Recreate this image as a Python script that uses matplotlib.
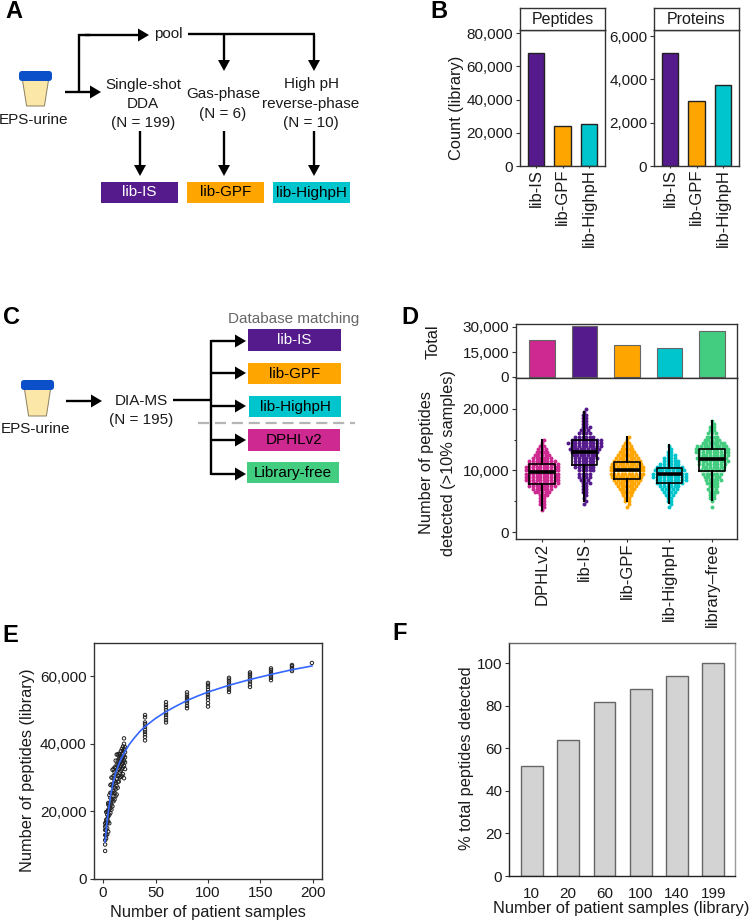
import numpy as np
import matplotlib
matplotlib.use('Agg')
import matplotlib.pyplot as plt
from matplotlib.patches import Polygon, Rectangle, FancyBboxPatch

plt.rcParams['font.family'] = ['Liberation Sans', 'DejaVu Sans']
plt.rcParams['font.size'] = 11

W, H = 750, 923

PURPLE = '#551A8B'
ORANGE = '#FFA500'
CYAN = '#00C5CD'
MAGENTA = '#CD2990'
GREEN = '#43CD80'
TXT = '#1a1a1a'
TITLE_SIZE = 11.8

# panel B
lib_names = ['lib-IS', 'lib-GPF', 'lib-HighpH']
lib_colors = [PURPLE, ORANGE, CYAN]
peptide_counts = [68000, 24000, 25500]
protein_counts = [5230, 3000, 3760]

# panel D
d_names = ['DPHLv2', 'lib-IS', 'lib-GPF', 'lib-HighpH', 'library\u2013free']
d_colors = [MAGENTA, PURPLE, ORANGE, CYAN, GREEN]
d_totals = [22300, 30500, 19200, 17300, 27600]
d_med = [9680, 13030, 10050, 9350, 11840]
d_q1 = [7840, 10810, 8650, 8000, 9890]
d_q3 = [11080, 14970, 11350, 10320, 13400]
d_whislo = [3500, 5000, 5100, 4700, 5130]
d_whishi = [14860, 19460, 15400, 14050, 18100]

# swarm: counts of samples per 500-peptide level, first level in d_first
d_first = [3500, 4500, 4000, 4000, 4000]
d_counts = [
    [1, 1, 2, 2, 2, 3, 5, 6, 8, 9, 10, 10, 10, 10, 10, 9, 8, 6, 5, 4, 3, 2, 1, 1],
    [1, 1, 1, 1, 2, 2, 2, 3, 3, 4, 4, 5, 6, 6, 6, 7, 7, 8, 9, 9, 10, 9, 6, 4, 3, 3, 2, 2, 2, 2, 1, 1],
    [1, 1, 2, 2, 3, 4, 5, 6, 7, 8, 9, 10, 10, 10, 9, 8, 7, 6, 5, 4, 3, 2, 1, 1],
    [1, 1, 2, 2, 3, 4, 5, 6, 8, 9, 10, 10, 9, 8, 6, 5, 4, 3, 2, 1, 1],
    [1, 0, 1, 2, 2, 3, 3, 3, 4, 5, 5, 6, 7, 7, 8, 9, 9, 9, 10, 10, 9, 7, 5, 4, 3, 2, 2, 1, 1],
]

# panel E
e_x_small = list(range(2, 22))
e_y_small = [
    [8300, 10200, 11500, 13000, 14500, 15500, 16500],
    [12000, 13000, 14500, 15800, 16800, 17500, 19800],
    [13200, 15000, 16500, 17800, 19000, 20000],
    [14000, 17000, 18500, 20000, 20500, 22000, 22500],
    [16500, 19000, 20500, 21500, 22300, 24800],
    [19500, 21000, 22500, 24000, 25500, 27800],
    [20500, 22000, 23500, 25500, 28000, 30000],
    [21500, 23500, 25500, 27500, 30000, 32300],
    [23000, 24500, 26000, 28000, 30500, 32500],
    [23500, 25500, 27000, 29000, 31500, 33000],
    [24500, 26500, 28500, 31000, 33000, 35000],
    [25000, 27500, 29500, 32000, 33800, 36800],
    [27000, 28800, 30500, 33500, 35000, 36800],
    [28800, 30500, 32500, 34000, 35500, 37000],
    [30000, 31500, 33000, 34500, 35800, 37000],
    [30200, 32000, 33500, 35000, 36000, 37800],
    [30500, 32500, 34000, 35500, 37000, 38500],
    [31000, 33000, 34500, 36000, 37800, 39200],
    [29800, 33500, 35000, 36500, 38500, 40000, 41600],
    [32500, 34500, 36000, 37500, 39000],
]
e_x_large = [40, 60, 80, 100, 120, 140, 160, 180, 199]
e_y_large = [
    [41000, 42000, 42800, 43500, 44200, 45000, 45800, 46300, 47800, 48500],
    [46300, 47000, 47800, 48500, 49200, 50000, 50800, 51500, 52300],
    [50500, 51200, 52000, 52600, 53200, 53800, 54500, 55200],
    [51000, 52000, 53000, 53800, 54500, 55200, 56000, 56800, 57500, 58000],
    [55300, 56000, 56600, 57200, 57800, 58400, 59000, 59500],
    [56800, 57600, 58400, 59000, 59600, 60200, 60700, 61100],
    [58800, 59500, 60000, 60600, 61200, 61800, 62300],
    [61500, 62000, 62500, 63000, 63300],
    [63900],
]
fit_x = [2, 3, 4, 5, 6, 7, 8, 10, 12, 14, 16, 18, 20, 25, 30, 35, 40, 50, 60, 70, 80, 90, 100, 120, 140, 160, 180, 199]
fit_y = [11000, 14500, 17500, 19800, 22000, 24200, 26000, 29000, 31300, 33000, 34700, 36000, 37200, 39800, 41800, 43600, 45100, 47500, 49500, 51200, 52800, 54100, 55300, 57300, 59000, 60500, 61900, 63000]

# panel F
f_labels = ['10', '20', '60', '100', '140', '199']
f_values = [51.5, 64, 81.7, 88, 94, 100]


def px_axes(x0, y0, x1, y1):
    return fig.add_axes([x0 / W, 1 - y1 / H, (x1 - x0) / W, (y1 - y0) / H])


def style(ax, color='#333333', lw=1.0, pad=2):
    for s in ax.spines.values():
        s.set_color(color)
        s.set_linewidth(lw)
    ax.tick_params(length=2.8, width=0.8, color='#333333', labelcolor=TXT, labelsize=11, pad=pad)


def line(xs, ys):
    bg.plot(xs, ys, color='black', lw=1.7, solid_capstyle='butt', solid_joinstyle='miter')


def arrow_r(x0, x1, y):
    line([x0, x1 - 8], [y, y])
    bg.add_patch(Polygon([[x1 - 11, y - 6.5], [x1, y], [x1 - 11, y + 6.5]], color='black', lw=0))


def arrow_d(x, y0, y1):
    line([x, x], [y0, y1 - 8])
    bg.add_patch(Polygon([[x - 6, y1 - 11], [x, y1], [x + 6, y1 - 11]], color='black', lw=0))


def label_box(x0, x1, y0, y1, color, text, tcolor='black'):
    bg.add_patch(Rectangle((x0, y0), x1 - x0, y1 - y0, facecolor=color, edgecolor='none'))
    bg.text((x0 + x1) / 2, (y0 + y1) / 2, text, ha='center', va='center', color=tcolor, fontsize=11)


def cup(x0, x1, y0, bottom):
    w = x1 - x0
    bg.add_patch(Polygon([[x0 + 0.1 * w, y0 + 8], [x1 - 0.1 * w, y0 + 8], [x1 - 0.23 * w, bottom - 1],
                          [x0 + 0.23 * w, bottom - 1]], closed=True, facecolor='#FBE7A8', edgecolor='#8a7f60', lw=0.7))
    bg.add_patch(FancyBboxPatch((x0 + 3, y0 + 3), w - 6, 4, boxstyle='round,pad=3', facecolor='#0B50C8', edgecolor='none'))


fig = plt.figure(figsize=(W / 100, H / 100), dpi=100)

# everything schematic sits on one pixel-scaled layer
bg = fig.add_axes([0, 0, 1, 1], zorder=0)
bg.set_xlim(0, W)
bg.set_ylim(H, 0)
bg.axis('off')

for letter, lx, ly in [('A', 5, 11), ('B', 430, 11), ('C', 3, 317), ('D', 401, 317), ('E', 2, 635), ('F', 392, 634)]:
    bg.text(lx, ly, letter, fontsize=17, fontweight='bold', ha='left', va='center', color='black')

# panel A
cup(19, 52, 71, 107)
bg.text(34, 120, 'EPS-urine', ha='center', va='center', color=TXT)
arrow_r(65, 101, 92)
line([79, 79, 90], [92, 35, 35])
arrow_r(85, 149, 35)
bg.text(168, 34, 'pool', ha='center', va='center', color=TXT)
line([188, 315], [34, 34])
arrow_d(224, 34, 71)
arrow_d(314, 34, 71)
for tx, ty, s in [(143, 85, 'Single-shot'), (143, 104, 'DDA'), (143, 123, '(N = 199)'),
                  (223, 94, 'Gas-phase'), (223, 114, '(N = 6)'),
                  (311, 84, 'High pH'), (311, 104, 'reverse-phase'), (311, 123, '(N = 10)')]:
    bg.text(tx, ty, s, ha='center', va='center', color=TXT)
arrow_d(140, 131, 176)
arrow_d(224, 131, 176)
arrow_d(314, 131, 176)
label_box(101, 178, 182, 203, PURPLE, 'lib-IS', 'white')
label_box(187, 264, 182, 203, ORANGE, 'lib-GPF')
label_box(273, 350, 182, 203, CYAN, 'lib-HighpH')

# panel C
cup(21, 54, 380, 417)
bg.text(36, 429, 'EPS-urine', ha='center', va='center', color=TXT)
arrow_r(66, 102, 401)
bg.text(141, 401, 'DIA-MS', ha='center', va='center', color=TXT)
bg.text(141, 420, '(N = 195)', ha='center', va='center', color=TXT)
line([173, 211], [400, 400])
line([211, 211], [340, 475])
for ay in [341, 373, 406, 440, 474]:
    arrow_r(211, 246, ay)
bg.plot([198, 355], [423, 423], color='#b5b5b5', lw=1.6, dashes=(5, 2.6))
bg.text(294, 319, 'Database matching', ha='center', va='center', color='#666666')
label_box(248, 341, 329, 351, PURPLE, 'lib-IS', 'white')
label_box(248, 341, 363, 384, ORANGE, 'lib-GPF')
label_box(249, 341, 396, 417, CYAN, 'lib-HighpH')
label_box(248, 340, 429, 451, MAGENTA, 'DPHLv2')
label_box(247, 339, 462, 483, GREEN, 'Library-free')

# panel B
for (x0, x1, title, vals, top, ticks) in [
        (520, 605, 'Peptides', peptide_counts, 82000, [0, 20000, 40000, 60000, 80000]),
        (654, 739, 'Proteins', protein_counts, 6280, [0, 2000, 4000, 6000])]:
    ax = px_axes(x0, 30, x1, 166)
    ax.bar(range(3), vals, width=0.62, color=lib_colors, edgecolor='#222222', linewidth=1.0)
    ax.set_xlim(-0.6, 2.6)
    ax.set_ylim(0, top)
    ax.set_yticks(ticks)
    ax.set_yticklabels([f'{t:,}' for t in ticks])
    ax.set_xticks(range(3))
    ax.set_xticklabels(lib_names, rotation=90)
    style(ax)
    ax.tick_params(axis='x', labelsize=12, length=1.5, pad=0.5)
    strip = px_axes(x0, 8, x1, 30)
    strip.set_xticks([])
    strip.set_yticks([])
    strip.text(0.5, 0.47, title, ha='center', va='center', transform=strip.transAxes, color=TXT, fontsize=11.5)
    style(strip)
bg.text(457, 108, 'Count (library)', rotation=90, ha='center', va='center', color=TXT, fontsize=TITLE_SIZE)

# panel D top bars
ax = px_axes(516, 324, 737, 378)
ax.bar(range(1, 6), d_totals, width=0.6, color=d_colors, edgecolor='#666666', linewidth=0.8)
ax.set_xlim(0.39, 5.59)
ax.set_ylim(-600, 31800)
ax.set_yticks([0, 15000, 30000])
ax.set_yticklabels(['0', '15,000', '30,000'])
ax.set_xticks([])
style(ax)

# panel D swarm and boxes
ax = px_axes(516, 378, 737, 539)
for i in range(5):
    levels = d_first[i] + 500 * np.arange(len(d_counts[i]))
    for k, (lev, n) in enumerate(zip(levels, d_counts[i])):
        shift = 0.04 if (k % 2 and n % 2) else 0
        xs = i + 1 + shift + 0.085 * (np.arange(n) - (n - 1) / 2)
        ax.scatter(xs, np.full(n, lev), s=8, color=d_colors[i], linewidths=0, zorder=2)
stats = [dict(med=d_med[i], q1=d_q1[i], q3=d_q3[i], whislo=d_whislo[i], whishi=d_whishi[i], fliers=[]) for i in range(5)]
ax.bxp(stats, positions=range(1, 6), widths=0.6, showcaps=False, showfliers=False, manage_ticks=False, zorder=3,
       boxprops=dict(color='black', lw=1.2), medianprops=dict(color='black', lw=2.6, solid_capstyle='butt'),
       whiskerprops=dict(color='black', lw=1.5))
ax.set_xlim(0.39, 5.59)
ax.set_ylim(-1130, 25000)
ax.set_yticks([0, 10000, 20000])
ax.set_yticklabels(['0', '10,000', '20,000'])
ax.set_yticks([5000, 15000], minor=True)
ax.set_xticks(range(1, 6))
ax.set_xticklabels(d_names, rotation=90)
style(ax)
ax.tick_params(which='minor', length=1.5, width=0.6)
ax.tick_params(axis='x', labelsize=12, length=2.2, pad=0.5)
bg.text(433, 342, 'Total', rotation=90, ha='center', va='center', color=TXT, fontsize=TITLE_SIZE)
bg.text(427, 463, 'Number of peptides', rotation=90, ha='center', va='center', color=TXT, fontsize=TITLE_SIZE)
bg.text(448, 463, 'detected (>10% samples)', rotation=90, ha='center', va='center', color=TXT, fontsize=TITLE_SIZE)

# panel E
ax = px_axes(94, 643, 322, 879)
for xv, ys in zip(e_x_small + e_x_large, e_y_small + e_y_large):
    ax.scatter(np.full(len(ys), xv), ys, s=6, facecolors='none', edgecolors='#222222', linewidths=0.7, zorder=2)
ax.plot(fit_x, fit_y, color='#3366FF', lw=1.2, zorder=3)
ax.set_xlim(-8.6, 208.6)
ax.set_ylim(0, 69800)
ax.set_xticks([0, 50, 100, 150, 200])
ax.set_yticks([0, 20000, 40000, 60000])
ax.set_yticklabels(['0', '20,000', '40,000', '60,000'])
style(ax, pad=2.5)
bg.text(28, 770, 'Number of peptides (library)', rotation=90, ha='center', va='center', color=TXT, fontsize=TITLE_SIZE)
bg.text(208, 913, 'Number of patient samples', ha='center', va='center', color=TXT, fontsize=TITLE_SIZE)

# panel F
ax = px_axes(509, 643, 735, 876)
ax.bar(range(6), f_values, width=0.6, color='#D3D3D3', edgecolor='#666666', linewidth=1.0)
ax.set_xlim(-0.63, 5.6)
ax.set_ylim(0, 109.4)
ax.set_xticks(range(6))
ax.set_xticklabels(f_labels)
ax.set_yticks([0, 20, 40, 60, 80, 100])
style(ax)
ax.spines['left'].set_color('#222222')
ax.spines['bottom'].set_color('#222222')
ax.spines['top'].set_color('#666666')
ax.spines['right'].set_color('#999999')
ax.tick_params(axis='x', length=0, pad=8)
bg.text(467, 758, '% total peptides detected', rotation=90, ha='center', va='center', color=TXT, fontsize=TITLE_SIZE)
bg.text(621, 909, 'Number of patient samples (library)', ha='center', va='center', color=TXT, fontsize=TITLE_SIZE)

fig.savefig('out.png', dpi=100)
